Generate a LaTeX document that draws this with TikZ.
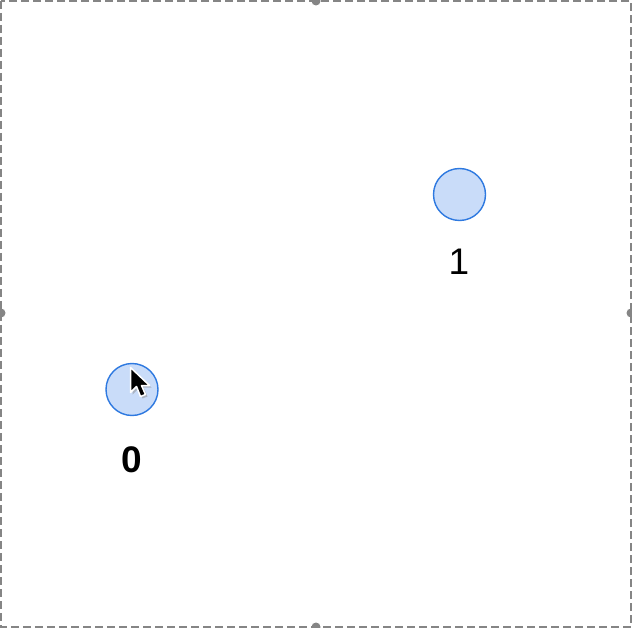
\documentclass[tikz,border=0pt]{standalone}
\usepackage{fontspec}
\setmainfont{Liberation Sans}
\definecolor{nodefill}{HTML}{C9DCF9}
\definecolor{nodeline}{HTML}{2E79E0}
\definecolor{frame}{HTML}{858585}
\tikzset{
  vertex/.style={circle, draw=nodeline, fill=nodefill, line width=1.4pt, minimum size=52pt, inner sep=0pt},
  vlabel/.style={font=\fontsize{37}{40}\selectfont, inner sep=0pt},
  handle/.style={circle, fill=frame, minimum size=9pt, inner sep=0pt},
}
\begin{document}
\begin{tikzpicture}[x=1pt, y=-1pt]
\useasboundingbox (0,0) rectangle (632,628);
\fill[white] (0,0) rectangle (632,628);
\draw[frame, line width=1.7pt, dash pattern=on 8pt off 4pt] (1,1) rectangle (631,627);
\node[handle] (ht) at (316,1) {};
\node[handle] (hl) at (1,313) {};
\node[handle] (hr) at (631,313) {};
\node[handle] (hb) at (316,627) {};
\node[vertex] (n0) at (132,389.5) {};
\node[vertex] (n1) at (459.5,194.5) {};
\node[vlabel, font=\fontsize{37}{40}\selectfont\bfseries] (l0) at (132,459.5) {0};
\node[vlabel] (l1) at (459,261.5) {1};
% mouse cursor
\begin{scope}[shift={(130.5,367.5)}]
  \fill[black!45, opacity=0.5] (2,2) -- (2,27) -- (8,21) -- (12,31) -- (17,29) -- (13,20) -- (21,20) -- cycle;
  \draw[white, line width=1.5pt, fill=black, line join=round] (0,0) -- (0,25) -- (6,19) -- (10,29) -- (15,27) -- (11,18) -- (19,18) -- cycle;
\end{scope}
\end{tikzpicture}
\end{document}
